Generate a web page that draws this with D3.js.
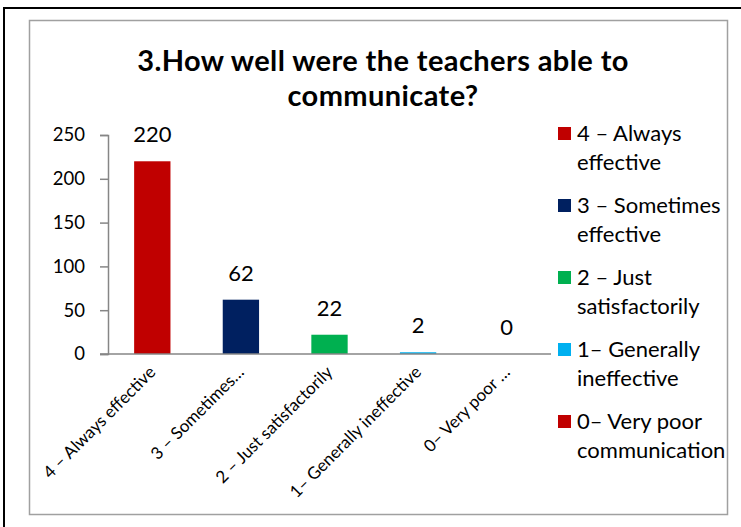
<!DOCTYPE html>
<html>
<head>
<meta charset="utf-8">
<script src="https://cdn.jsdelivr.net/npm/d3@7"></script>
<style>
  body { margin: 0; background: #fff; }
  text { font-family: Lato, "Open Sans", sans-serif; fill: #000; }
</style>
</head>
<body>
<div id="chartDiv"></div>
<script>
// data
var categories = ["4 – Always effective", "3 – Sometimes effective", "2 – Just satisfactorily", "1– Generally ineffective", "0– Very poor communication"];
var axisLabels = ["4 – Always effective", "3 – Sometimes…", "2 – Just satisfactorily", "1– Generally ineffective", "0– Very poor …"];
var values = [220, 62, 22, 2, 0];
var colors = ["#C00000", "#002060", "#00B050", "#00B0F0", "#C00000"];
var legendLines = [["4 – Always", "effective"], ["3 – Sometimes", "effective"], ["2 – Just", "satisfactorily"], ["1– Generally", "ineffective"], ["0– Very poor", "communication"]];
var yTicks = [0, 50, 100, 150, 200, 250];
var titleLines = ["3.How well were the teachers able to", "communicate?"];

var W = 741, H = 527;
var svg = d3.select("#chartDiv").append("svg")
  .attr("width", W)
  .attr("height", H);

// outer black frame and inner grey chart border
svg.append("rect")
  .attr("x", 4).attr("y", 8).attr("width", W + 10).attr("height", H + 10)
  .attr("fill", "none").attr("stroke", "#000").attr("stroke-width", 2);
svg.append("rect")
  .attr("x", 29.5).attr("y", 20.5).attr("width", 698).attr("height", 494)
  .attr("fill", "#fff").attr("stroke", "#a0a0a0").attr("stroke-width", 1.5);

// title
svg.append("g").selectAll("text")
  .data(titleLines)
  .enter().append("text")
  .attr("x", 383)
  .attr("y", function (d, i) { return 71 + i * 35; })
  .attr("text-anchor", "middle")
  .style("font-size", "29px")
  .style("font-weight", "bold")
  .style("letter-spacing", "0.4px")
  .text(function (d) { return d; });

var plot = { left: 108, right: 551, top: 135, bottom: 354 };

var x = d3.scaleBand()
  .domain(categories)
  .range([plot.left, plot.right])
  .paddingInner(0.59)
  .paddingOuter(0.295);

var y = d3.scaleLinear()
  .domain([0, 250])
  .range([plot.bottom, plot.top]);

// y axis
var yAxis = d3.axisLeft(y).tickValues(yTicks).tickSize(8).tickPadding(15);
var gy = svg.append("g")
  .attr("transform", "translate(" + plot.left + ",0)")
  .call(yAxis);
gy.select(".domain").attr("stroke", "#868686").attr("stroke-width", 1.5);
gy.selectAll(".tick line").attr("stroke", "#868686").attr("stroke-width", 1.5);
gy.selectAll(".tick text").style("font-size", "18.5px").attr("fill", "#000");

// bars
svg.append("g").selectAll("rect")
  .data(values)
  .enter().append("rect")
  .attr("x", function (d, i) { return x(categories[i]); })
  .attr("y", function (d) { return y(d); })
  .attr("width", x.bandwidth())
  .attr("height", function (d) { return y(0) - y(d); })
  .attr("fill", function (d, i) { return colors[i]; });

// x axis line
svg.append("line")
  .attr("x1", plot.left - 8).attr("x2", plot.right)
  .attr("y1", y(0)).attr("y2", y(0))
  .attr("stroke", "#868686").attr("stroke-width", 1.5);

// value labels
svg.append("g").selectAll("text")
  .data(values)
  .enter().append("text")
  .attr("x", function (d, i) { return x(categories[i]) + x.bandwidth() / 2; })
  .attr("y", function (d) { return y(d) - 19; })
  .attr("text-anchor", "middle")
  .style("font-size", "22px")
  .text(function (d) { return d; });

// rotated category labels
svg.append("g").selectAll("text")
  .data(axisLabels)
  .enter().append("text")
  .attr("transform", function (d, i) {
    var cx = x(categories[i]) + x.bandwidth() / 2;
    return "translate(" + cx + "," + (y(0) + 15) + ") rotate(-45)";
  })
  .attr("text-anchor", "end")
  .attr("dy", "0.35em")
  .style("font-size", "17px")
  .text(function (d) { return d; });

// legend
var legend = svg.append("g").selectAll("g")
  .data(legendLines)
  .enter().append("g")
  .attr("transform", function (d, i) { return "translate(558," + (127 + i * 72) + ")"; });
legend.append("rect")
  .attr("width", 13).attr("height", 13)
  .attr("fill", function (d, i) { return colors[i]; });
legend.selectAll("text")
  .data(function (d) { return d; })
  .enter().append("text")
  .attr("x", 19)
  .attr("y", function (d, j) { return 14 + j * 29; })
  .style("font-size", "22px")
  .text(function (d) { return d; });
</script>
</body>
</html>
